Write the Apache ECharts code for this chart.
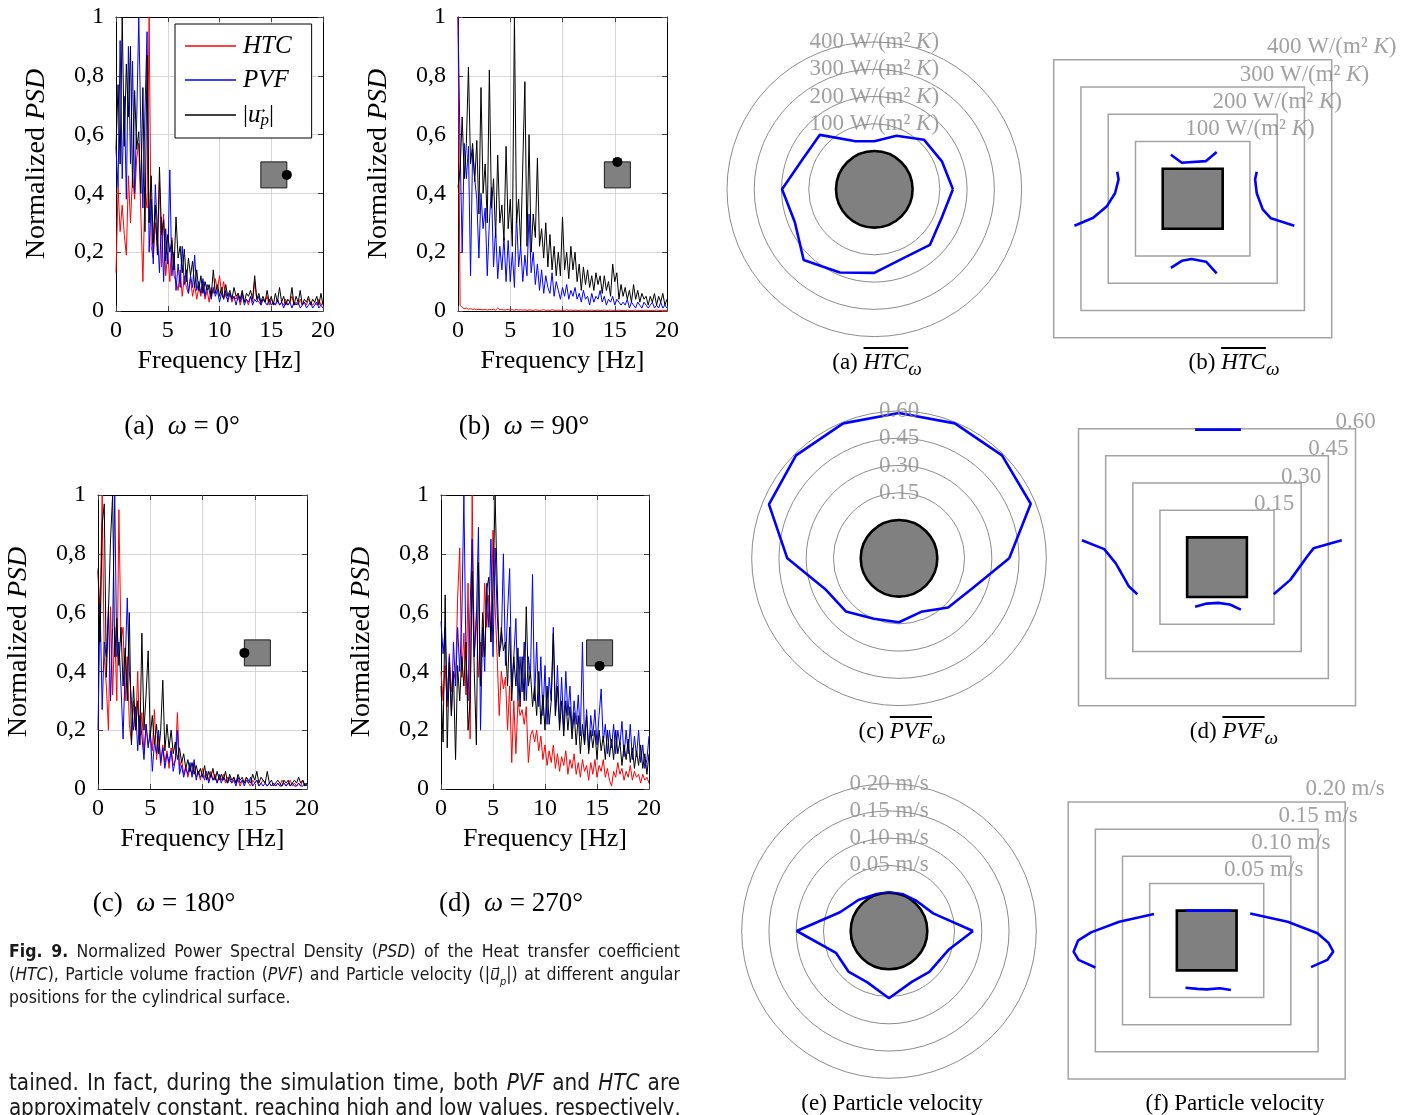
<!DOCTYPE html>
<html><head><meta charset="utf-8">
<script src="https://cdn.jsdelivr.net/npm/echarts/dist/echarts.min.js"></script>
<style>
html,body{margin:0;padding:0;background:#fff;width:1413px;height:1115px;overflow:hidden;}
#chart{position:absolute;left:0;top:0;width:1413px;height:1115px;}
.cap{position:absolute;font-family:"Liberation Serif","Times New Roman",serif;color:#000;text-align:center;white-space:nowrap;line-height:30px;}
.ol{text-decoration:overline;}
.para{position:absolute;font-family:"Liberation Sans Narrow","DejaVu Sans Condensed","Liberation Sans",sans-serif;text-align:justify;color:#1a1a1a;}
.line{text-align:justify;text-align-last:justify;white-space:nowrap;overflow:visible;}
sub{line-height:0;}
</style></head><body>
<div id="chart"></div>

<div class="cap" style="left:82px;top:410px;width:200px;font-size:27px;">(a)&nbsp;&nbsp;<i>ω</i> = 0°</div>
<div class="cap" style="left:424px;top:410px;width:200px;font-size:27px;">(b)&nbsp;&nbsp;<i>ω</i> = 90°</div>
<div class="cap" style="left:64px;top:887px;width:200px;font-size:27px;">(c)&nbsp;&nbsp;<i>ω</i> = 180°</div>
<div class="cap" style="left:411px;top:887px;width:200px;font-size:27px;">(d)&nbsp;&nbsp;<i>ω</i> = 270°</div>

<div class="cap" style="left:777px;top:347px;width:200px;font-size:23px;">(a)&nbsp;<span class="ol"><i>HTC</i></span><sub><i>ω</i></sub></div>
<div class="cap" style="left:1134px;top:347px;width:200px;font-size:23px;">(b)&nbsp;<span class="ol"><i>HTC</i></span><sub><i>ω</i></sub></div>
<div class="cap" style="left:802px;top:716px;width:200px;font-size:23px;">(c)&nbsp;<span class="ol"><i>PVF</i></span><sub><i>ω</i></sub></div>
<div class="cap" style="left:1134px;top:716px;width:200px;font-size:23px;">(d)&nbsp;<span class="ol"><i>PVF</i></span><sub><i>ω</i></sub></div>
<div class="cap" style="left:792px;top:1088px;width:200px;font-size:23px;">(e)&nbsp;Particle velocity</div>
<div class="cap" style="left:1135px;top:1088px;width:200px;font-size:23px;">(f)&nbsp;Particle velocity</div>

<div class="para" style="left:9px;top:940px;width:671px;font-size:17.5px;line-height:23px;"><b>Fig. 9.</b> Normalized Power Spectral Density (<i>PSD</i>) of the Heat transfer coefficient (<i>HTC</i>), Particle volume fraction (<i>PVF</i>) and Particle velocity (|<i>u⃗</i><sub style="font-size:11px"><i>p</i></sub>|) at different angular positions for the cylindrical surface.</div>
<div class="para" style="left:9px;top:1070px;width:671px;font-size:22.3px;line-height:25px;">
<div class="line fit"><span>tained. In fact, during the simulation time, both <i>PVF</i> and <i>HTC</i> are</span></div>
<div class="line fit"><span>approximately constant, reaching high and low values, respectively,</span></div>
</div>

<script>
// ---------------- DATA ----------------
const freq = Array.from({length:101}, (_, i) => Math.round(i * 2) / 10); // 0..20 Hz, 0.2 Hz step
const xTicks = [0, 5, 10, 15, 20];
const yTicks = [0, 0.2, 0.4, 0.6, 0.8, 1];
const omegas = [0, 90, 180, 270];
const insetPos = [15.25, 0.463];

const psdA_HTC = [0.13,0.42,0.27,0.36,0.26,0.19,0.46,0.3,0.46,0.38,
0.52,0.57,0.33,0.1,0.42,0.35,1.0,0.22,0.18,0.3,
0.22,0.44,0.15,0.33,0.12,0.2,0.1,0.25,0.12,0.1,
0.07,0.14,0.05,0.12,0.08,0.06,0.11,0.05,0.09,0.04,
0.08,0.05,0.1,0.04,0.07,0.03,0.08,0.06,0.11,0.07,
0.12,0.06,0.1,0.05,0.04,0.06,0.03,0.05,0.04,0.06,
0.02,0.05,0.03,0.04,0.02,0.05,0.03,0.1,0.04,0.03,
0.02,0.04,0.03,0.05,0.02,0.04,0.03,0.02,0.04,0.02,
0.03,0.02,0.04,0.02,0.03,0.05,0.02,0.03,0.02,0.04,
0.02,0.03,0.02,0.04,0.03,0.02,0.03,0.02,0.04,0.02,0.03];
const psdA_PVF = [0.55,0.42,0.92,0.45,0.73,0.38,0.9,0.5,0.85,0.4,
0.65,1.0,0.62,0.35,0.68,0.95,0.2,0.38,0.16,0.43,
0.27,0.13,0.32,0.1,0.28,0.16,0.48,0.12,0.2,0.07,
0.16,0.08,0.22,0.09,0.14,0.06,0.12,0.08,0.19,0.07,
0.1,0.06,0.11,0.05,0.09,0.07,0.04,0.08,0.05,0.07,
0.03,0.06,0.04,0.07,0.03,0.06,0.04,0.05,0.02,0.05,
0.03,0.06,0.02,0.04,0.03,0.05,0.02,0.04,0.03,0.05,
0.02,0.04,0.03,0.02,0.04,0.02,0.03,0.02,0.04,0.02,
0.03,0.01,0.03,0.02,0.03,0.01,0.03,0.02,0.03,0.01,
0.02,0.03,0.01,0.02,0.03,0.01,0.02,0.03,0.01,0.02,0.01];
const psdA_UP = [0.55,0.77,0.5,1.0,0.56,0.84,0.66,0.9,0.42,0.75,
0.55,0.61,0.4,0.76,0.27,0.87,0.3,0.46,0.23,0.36,
0.19,0.49,0.26,0.31,0.17,0.26,0.2,0.24,0.14,0.32,
0.18,0.22,0.13,0.21,0.1,0.18,0.12,0.17,0.08,0.14,
0.07,0.12,0.06,0.1,0.07,0.09,0.05,0.14,0.06,0.09,
0.05,0.08,0.04,0.09,0.05,0.07,0.04,0.08,0.05,0.06,
0.04,0.07,0.03,0.06,0.05,0.07,0.04,0.12,0.04,0.06,
0.03,0.05,0.03,0.07,0.03,0.05,0.02,0.06,0.03,0.08,
0.03,0.05,0.02,0.04,0.03,0.08,0.02,0.05,0.03,0.07,
0.02,0.04,0.03,0.05,0.02,0.04,0.03,0.05,0.02,0.06,0.02];

const psdB_HTC = [1.0,0.02,0.012,0.008,0.01,0.006,0.008,0.005,0.007,0.004,
0.006,0.005,0.004,0.006,0.003,0.005,0.004,0.006,0.003,0.01,
0.004,0.005,0.003,0.004,0.005,0.003,0.004,0.003,0.005,0.003,
0.004,0.003,0.004,0.002,0.004,0.003,0.002,0.004,0.003,0.002,
0.003,0.004,0.002,0.003,0.002,0.004,0.003,0.002,0.003,0.002,
0.003,0.002,0.004,0.002,0.003,0.002,0.003,0.002,0.002,0.003,
0.002,0.003,0.002,0.002,0.003,0.002,0.002,0.003,0.002,0.002,
0.003,0.002,0.002,0.003,0.002,0.002,0.002,0.003,0.002,0.002,
0.002,0.003,0.002,0.002,0.002,0.003,0.002,0.002,0.002,0.002,
0.003,0.002,0.002,0.002,0.002,0.003,0.002,0.002,0.002,0.002,0.002];
const psdB_PVF = [1.0,0.56,0.2,0.57,0.45,0.56,0.12,0.55,0.45,0.38,
0.18,0.4,0.28,0.35,0.12,0.3,0.42,0.15,0.28,0.11,
0.22,0.14,0.25,0.1,0.24,0.1,0.2,0.08,0.33,0.15,
0.22,0.1,0.19,0.12,0.33,0.13,0.2,0.09,0.16,0.07,
0.14,0.06,0.12,0.08,0.06,0.13,0.05,0.1,0.07,0.04,
0.08,0.05,0.09,0.04,0.07,0.05,0.08,0.04,0.06,0.03,
0.07,0.04,0.05,0.02,0.06,0.03,0.05,0.04,0.07,0.03,
0.05,0.02,0.04,0.03,0.05,0.02,0.04,0.03,0.02,0.03,
0.02,0.04,0.01,0.03,0.02,0.01,0.03,0.02,0.01,0.03,
0.02,0.01,0.02,0.03,0.01,0.02,0.01,0.03,0.01,0.02,0.01];
const psdB_UP = [0.42,0.48,0.66,0.45,0.57,0.83,0.5,0.57,0.44,0.58,
0.33,0.76,0.4,0.5,0.3,0.82,0.35,0.45,0.25,0.53,
0.3,0.36,0.24,0.56,0.28,0.38,0.22,1.0,0.3,0.38,
0.22,0.5,0.78,0.22,0.6,0.2,0.33,0.25,0.52,0.22,
0.28,0.18,0.3,0.15,0.26,0.14,0.22,0.12,0.2,0.12,
0.32,0.14,0.2,0.11,0.22,0.14,0.2,0.1,0.16,0.07,
0.15,0.09,0.14,0.08,0.12,0.07,0.13,0.09,0.12,0.06,
0.12,0.07,0.1,0.05,0.16,0.1,0.13,0.04,0.09,0.05,
0.08,0.04,0.07,0.03,0.09,0.04,0.07,0.03,0.06,0.04,
0.05,0.02,0.05,0.03,0.06,0.02,0.05,0.03,0.06,0.02,0.04];

const psdC_HTC = [0.74,0.6,1.0,0.45,0.35,0.2,0.62,0.32,0.55,0.3,
0.95,0.5,0.55,0.3,0.45,0.22,0.16,0.3,0.2,0.4,
0.15,0.26,0.12,0.22,0.15,0.18,0.13,0.27,0.1,0.18,
0.08,0.15,0.09,0.13,0.07,0.14,0.08,0.1,0.26,0.07,
0.1,0.05,0.08,0.04,0.07,0.05,0.09,0.04,0.06,0.03,
0.07,0.04,0.05,0.03,0.06,0.03,0.05,0.02,0.04,0.03,
0.05,0.02,0.04,0.03,0.02,0.04,0.02,0.03,0.01,0.03,
0.02,0.04,0.02,0.01,0.03,0.02,0.03,0.01,0.02,0.03,
0.02,0.01,0.02,0.01,0.02,0.01,0.02,0.01,0.03,0.02,
0.01,0.02,0.03,0.01,0.02,0.01,0.02,0.01,0.03,0.01,0.02];
const psdC_PVF = [0.2,0.63,0.27,0.5,0.45,0.62,0.3,0.55,1.0,0.45,
0.5,0.35,0.17,0.42,0.65,0.4,0.3,0.2,0.28,0.13,
0.25,0.18,0.1,0.22,0.14,0.2,0.06,0.16,0.12,0.2,
0.09,0.14,0.07,0.12,0.09,0.13,0.06,0.1,0.2,0.05,
0.08,0.04,0.07,0.05,0.09,0.04,0.1,0.03,0.06,0.04,
0.05,0.03,0.06,0.02,0.05,0.03,0.04,0.02,0.05,0.02,
0.04,0.03,0.02,0.04,0.02,0.03,0.01,0.04,0.02,0.03,
0.01,0.03,0.02,0.04,0.01,0.02,0.03,0.01,0.02,0.01,
0.02,0.01,0.02,0.01,0.02,0.01,0.02,0.01,0.01,0.02,
0.01,0.02,0.01,0.02,0.01,0.01,0.02,0.01,0.01,0.02,0.01];
const psdC_UP = [0.75,0.5,0.9,0.97,0.38,0.6,0.85,1.0,0.45,0.58,
0.42,0.55,0.35,0.48,0.3,0.6,0.15,0.35,0.2,0.3,
0.15,0.53,0.2,0.32,0.47,0.18,0.25,0.15,0.22,0.12,
0.2,0.37,0.13,0.22,0.14,0.2,0.12,0.16,0.1,0.14,
0.09,0.12,0.07,0.1,0.06,0.09,0.05,0.08,0.05,0.07,
0.04,0.08,0.03,0.06,0.04,0.07,0.03,0.06,0.03,0.05,
0.03,0.06,0.02,0.05,0.03,0.04,0.02,0.05,0.03,0.04,
0.02,0.04,0.03,0.02,0.05,0.03,0.06,0.02,0.04,0.03,
0.02,0.06,0.02,0.03,0.01,0.02,0.03,0.02,0.01,0.03,
0.02,0.03,0.01,0.02,0.03,0.02,0.04,0.02,0.03,0.01,0.02];

const psdD_HTC = [0.4,0.3,0.42,0.28,0.46,0.33,0.4,0.37,0.65,0.82,
0.38,0.53,0.32,0.7,0.17,1.0,0.45,0.6,0.38,0.5,
0.45,0.7,0.55,0.66,0.5,0.88,0.62,0.45,0.25,0.4,
0.34,0.38,0.2,0.35,0.09,0.3,0.12,0.3,0.25,0.27,
0.22,0.28,0.09,0.18,0.2,0.16,0.2,0.13,0.18,0.1,
0.15,0.08,0.13,0.09,0.15,0.07,0.12,0.06,0.11,0.08,
0.13,0.05,0.1,0.07,0.12,0.05,0.09,0.04,0.1,0.06,
0.08,0.03,0.09,0.05,0.1,0.04,0.08,0.06,0.1,0.04,
0.07,0.03,0.01,0.06,0.04,0.09,0.05,0.07,0.03,0.06,
0.04,0.08,0.03,0.06,0.04,0.05,0.02,0.05,0.03,0.04,0.02];
const psdD_PVF = [0.57,0.46,0.55,0.3,0.45,0.25,0.5,0.35,0.55,0.4,
0.58,1.0,0.45,0.3,0.62,0.85,0.45,0.58,0.89,0.2,
0.55,0.4,0.7,0.55,0.85,0.45,0.82,0.6,0.46,0.5,
0.8,0.42,0.6,0.75,0.35,0.45,0.58,0.3,0.45,0.33,
0.5,0.3,0.45,0.38,0.73,0.3,0.5,0.28,0.45,0.25,
0.42,0.22,0.38,0.3,0.55,0.25,0.42,0.22,0.38,0.2,
0.4,0.25,0.35,0.2,0.3,0.22,0.32,0.18,0.5,0.15,
0.27,0.13,0.25,0.18,0.27,0.15,0.25,0.34,0.16,0.22,
0.12,0.2,0.14,0.22,0.12,0.2,0.15,0.23,0.11,0.2,
0.12,0.22,0.1,0.18,0.11,0.2,0.09,0.15,0.07,0.1,0.18];
const psdD_UP = [0.35,0.16,0.66,0.14,0.43,0.25,0.4,0.1,0.42,0.3,
0.45,0.35,0.5,0.2,0.3,0.74,0.4,0.15,0.77,0.35,
0.6,0.45,0.68,0.72,0.5,0.68,1.0,0.7,0.45,0.55,
0.47,0.5,0.35,0.55,0.3,0.45,0.35,0.48,0.28,0.45,
0.3,0.62,0.35,0.4,0.28,0.35,0.25,0.4,0.22,0.32,
0.2,0.35,0.22,0.3,0.53,0.25,0.35,0.2,0.3,0.18,
0.3,0.2,0.28,0.17,0.26,0.15,0.25,0.12,0.22,0.15,
0.25,0.12,0.2,0.14,0.2,0.1,0.2,0.13,0.18,0.1,
0.2,0.11,0.17,0.1,0.2,0.12,0.16,0.08,0.15,0.1,
0.17,0.09,0.14,0.07,0.13,0.08,0.15,0.07,0.12,0.05,0.12];

// cylinder (polar) profiles, angle in degrees (0 = right, counter-clockwise)
const polarAngles = [0,22.5,45,67.5,90,112.5,135,157.5,180,202.5,225,247.5,270,292.5,315,337.5];
const htcCyl = [148,128,117,72,36,51,142,145,198,175,226,190,166,134,148,128];
const pvfCyl = [0.396,0.574,0.591,0.593,0.589,0.593,0.591,0.564,0.404,0.230,0.203,0.149,0.141,0.108,0.172,0.225];
const velAngles = [0,21.7,47.3,68.7,90,108.4,134.7,159.1,180,202.3,225,247.2,270,294.1,314.7,342.2];
const velCyl = [0.084,0.017,0.0046,0.002,0.0007,0.0013,0.0097,0.026,0.099,0.035,0.035,0.032,0.053,0.032,0.035,0.044];

// ring levels and labels
const htcRings = [100,200,300,400];
const htcRingLabels = ['100 W/(m²','200 W/(m²','300 W/(m²','400 W/(m²'];
const pvfRings = [0.15,0.30,0.45,0.60];
const pvfRingLabels = ['0.15','0.30','0.45','0.60'];
const velRings = [0.05,0.10,0.15,0.20];
const velRingLabels = ['0.05 m/s','0.10 m/s','0.15 m/s','0.20 m/s'];

// square profiles: position along side, value (distance from side)
const htcSqTopPos = [-80,-40,49,88], htcSqTopVal = [51,22,28,61];
const htcSqBotPos = [-80,-40,-4,49,88], htcSqBotVal = [144,118,111,121,164];
const htcSqLeftPos = [99,71,20,-29,-70,-99], htcSqLeftVal = [167,162,175,206,255,324];
const htcSqRightPos = [99,71,20,-39,-72,-99], htcSqRightVal = [125,119,125,147,177,263];

const pvfSqTopPos = [-0.121,0.132], pvfSqTopVal = [0.595,0.595];
const pvfSqBotPos = [-0.121,-0.057,0.007,0.071,0.132], pvfSqBotVal = [0.054,0.036,0.032,0.041,0.069];
const pvfSqLeftPos = [0.149,0.100,0.021,-0.107,-0.149], pvfSqLeftVal = [0.581,0.458,0.394,0.321,0.275];
const pvfSqRightPos = [0.149,0.104,0.062,-0.070,-0.149], pvfSqRightVal = [0.524,0.368,0.335,0.240,0.148];

const velSqTopPos = [-0.039,0.0445], velSqTopVal = [0,0];
const velSqBotPos = [-0.039,-0.017,0,0.0244,0.0445], velSqBotVal = [0.032,0.034,0.035,0.033,0.036];
const velSqLeftPos = [0.0486,0.0344,0.015,-0.0004,-0.0205,-0.0357,-0.0498], velSqLeftVal = [0.042,0.106,0.158,0.182,0.190,0.181,0.150];
const velSqRightPos = [0.0498,0.0344,0.0132,-0.004,-0.0205,-0.0357,-0.0491], velSqRightVal = [0.025,0.094,0.149,0.169,0.178,0.167,0.137];

// ---------------- LAYOUT / STYLE ----------------
const SERIF = '"Liberation Serif","Times New Roman",serif';
const RED = '#ff0000', BLUE = '#0000ff', BLACK = '#000000';
const psdLayout = [
  {left:116, top:17, width:207, height:294},
  {left:458, top:17, width:209, height:294},
  {left:98, top:495, width:209, height:294},
  {left:441, top:495, width:208, height:294}
];
const psdSets = [
  [psdA_HTC, psdA_PVF, psdA_UP],
  [psdB_HTC, psdB_PVF, psdB_UP],
  [psdC_HTC, psdC_PVF, psdC_UP],
  [psdD_HTC, psdD_PVF, psdD_UP]
];
const polarLayout = [
  {center:[874.3,189.3], radius:[38.3,147.3]},
  {center:[899,558.3], radius:[38.3,147.3]},
  {center:[889,931], radius:[38.3,147.3]}
];
const squareLayout = [
  {left:1053.7, top:59.7, width:278, height:278},
  {left:1078.5, top:428.7, width:277, height:277},
  {left:1068.2, top:802, width:277, height:277}
];
const squareLabelDist = [1, -5, 2];

const option = {
  animation:false,
  backgroundColor:'#fff',
  grid:[], xAxis:[], yAxis:[], polar:[], angleAxis:[], radiusAxis:[], series:[],
  legend:{
    data:['HTC','PVF','up'], orient:'vertical', left:175, top:24,
    padding:[9,20,9,10], itemGap:8, itemWidth:51, itemHeight:1.4, icon:'rect',
    borderColor:'#000', borderWidth:1, borderRadius:0, backgroundColor:'#fff',
    selectedMode:false, z:10,
    formatter: n => n === 'up' ? '{n||}{i|u}{ar|→}{s|p}{n||}' : '{i|' + n + '}',
    textStyle:{fontFamily:SERIF, fontSize:25, lineHeight:26, color:'#000', padding:[0,0,0,2],
      rich:{
        n:{fontFamily:SERIF, fontSize:25, lineHeight:26},
        i:{fontFamily:SERIF, fontSize:25, lineHeight:26, fontStyle:'italic'},
        ar:{fontFamily:SERIF, fontSize:15, lineHeight:4, width:0, align:'right', verticalAlign:'top'},
        s:{fontFamily:SERIF, fontSize:17, lineHeight:17, fontStyle:'italic', padding:[11,0,0,0]}
      }}
  }
};

const axisLineStyle = {color:'#000', width:1};
const tickStyle = {inside:true, length:5, lineStyle:{color:'#444', width:1}};

psdLayout.forEach((L, i) => {
  option.grid.push(Object.assign({outerBoundsMode:'none', containLabel:false}, L));
  option.xAxis.push({
    gridIndex:i, type:'value', min:xTicks[0], max:xTicks[xTicks.length-1], interval:5, position:'bottom',
    axisLine:{show:true, onZero:false, lineStyle:axisLineStyle}, axisTick:tickStyle,
    axisLabel:{margin:8, fontFamily:SERIF, fontSize:24, color:'#000'},
    splitLine:{show:true, lineStyle:{color:'#d6d6d6', width:1}},
    name:'Frequency [Hz]', nameLocation:'middle', nameGap:37,
    nameTextStyle:{fontFamily:SERIF, fontSize:26, color:'#000'}
  });
  option.xAxis.push({
    gridIndex:i, type:'value', min:0, max:20, interval:5, position:'top',
    axisLine:{show:true, onZero:false, lineStyle:axisLineStyle}, axisTick:tickStyle,
    axisLabel:{show:false}, splitLine:{show:false}
  });
  option.yAxis.push({
    gridIndex:i, type:'value', min:yTicks[0], max:yTicks[yTicks.length-1], interval:0.2, position:'left',
    axisLine:{show:true, onZero:false, lineStyle:axisLineStyle}, axisTick:tickStyle,
    axisLabel:{margin:12, fontFamily:SERIF, fontSize:24, color:'#000',
      formatter: v => (v === 0 || v === 1) ? String(v) : v.toFixed(1).replace('.', ',')},
    splitLine:{show:true, lineStyle:{color:'#d6d6d6', width:1}},
    name:'{n|Normalized }{i|PSD}', nameLocation:'middle', nameGap:65,
    nameTextStyle:{rich:{
      n:{fontFamily:SERIF, fontSize:28, color:'#000'},
      i:{fontFamily:SERIF, fontSize:28, color:'#000', fontStyle:'italic'}}}
  });
  option.yAxis.push({
    gridIndex:i, type:'value', min:0, max:1, interval:0.2, position:'right',
    axisLine:{show:true, onZero:false, lineStyle:axisLineStyle}, axisTick:tickStyle,
    axisLabel:{show:false}, splitLine:{show:false}
  });
  const names = ['HTC','PVF','up'], cols = [RED, BLUE, BLACK];
  psdSets[i].forEach((arr, s) => {
    option.series.push({
      type:'line', name:names[s], xAxisIndex:2*i, yAxisIndex:2*i,
      data: freq.map((f, k) => [f, arr[k]]),
      symbol:'none', showSymbol:false, clip:true, silent:true,
      lineStyle:{color:cols[s], width:1}, itemStyle:{color:cols[s]}, z:2+s*0.01
    });
  });
  option.series.push({
    type:'custom', xAxisIndex:2*i, yAxisIndex:2*i, silent:true, z:5,
    data:[[insetPos[0], insetPos[1], omegas[i]]],
    renderItem:(params, api) => {
      const c = api.coord([api.value(0), api.value(1)]);
      const s = 13, a = api.value(2) * Math.PI / 180;
      return {type:'group', children:[
        {type:'rect', shape:{x:c[0]-s, y:c[1]-s, width:2*s, height:2*s}, style:{fill:'#808080', stroke:'#1a1a1a', lineWidth:1}},
        {type:'circle', shape:{cx:c[0]+s*Math.cos(a), cy:c[1]-s*Math.sin(a), r:5}, style:{fill:'#000'}}
      ]};
    }
  });
});

// ----- polar (cylinder) plots -----
const polarDefs = [
  {angles:polarAngles, vals:htcCyl, rings:htcRings, labels:htcRingLabels, max:400, interval:100, rich:true},
  {angles:polarAngles, vals:pvfCyl, rings:pvfRings, labels:pvfRingLabels, max:0.6, interval:0.15, rich:false},
  {angles:velAngles, vals:velCyl, rings:velRings, labels:velRingLabels, max:0.2, interval:0.05, rich:false}
];
const ringLabelStyle = {
  fontFamily:SERIF, fontSize:23, color:'#8a8a8a',
  rich:{a:{fontFamily:SERIF, fontSize:23, color:'#8a8a8a'}, k:{fontFamily:SERIF, fontSize:23, color:'#8a8a8a', fontStyle:'italic'}}
};
const fmtLabel = (txt, rich) => rich ? '{a|' + txt + '}{k| K}{a|)}' : txt;

polarDefs.forEach((P, k) => {
  option.polar.push(polarLayout[k]);
  option.angleAxis.push({polarIndex:k, type:'value', min:0, max:360, startAngle:0, clockwise:false, show:false});
  option.radiusAxis.push({polarIndex:k, type:'value', min:0, max:P.max, interval:P.interval,
    axisLine:{show:false}, axisTick:{show:false}, axisLabel:{show:false},
    splitLine:{show:true, lineStyle:{color:'#8c8c8c', width:1}}});
  option.series.push({
    type:'pie', center:polarLayout[k].center, radius:polarLayout[k].radius[0], silent:true, z:2,
    data:[{value:1}], label:{show:false}, labelLine:{show:false},
    itemStyle:{color:'#808080', borderColor:'#000', borderWidth:2.6}, emphasis:{disabled:true}
  });
  const pts = P.angles.map((a, j) => [P.vals[j], a]);
  pts.push(pts[0]);
  option.series.push({
    type:'line', coordinateSystem:'polar', polarIndex:k, data:pts, symbol:'none', silent:true, z:4,
    lineStyle:{color:BLUE, width:2.6}
  });
  option.series.push({
    type:'scatter', coordinateSystem:'polar', polarIndex:k, symbolSize:0, silent:true, z:5,
    data:P.rings.map((v, j) => ({value:[v, 90], name:P.labels[j]})),
    label:Object.assign({show:true, position:'inside', formatter:p => fmtLabel(p.name, P.rich)}, ringLabelStyle)
  });
});

// ----- square plots -----
const squareDefs = [
  {s0:110, ext:510, rings:htcRings, labels:htcRingLabels, rich:true,
   top:[htcSqTopPos,htcSqTopVal], bot:[htcSqBotPos,htcSqBotVal], left:[htcSqLeftPos,htcSqLeftVal], right:[htcSqRightPos,htcSqRightVal]},
  {s0:0.165, ext:0.765, rings:pvfRings, labels:pvfRingLabels, rich:false,
   top:[pvfSqTopPos,pvfSqTopVal], bot:[pvfSqBotPos,pvfSqBotVal], left:[pvfSqLeftPos,pvfSqLeftVal], right:[pvfSqRightPos,pvfSqRightVal]},
  {s0:0.055, ext:0.255, rings:velRings, labels:velRingLabels, rich:false,
   top:[velSqTopPos,velSqTopVal], bot:[velSqBotPos,velSqBotVal], left:[velSqLeftPos,velSqLeftVal], right:[velSqRightPos,velSqRightVal]}
];
squareDefs.forEach((S, k) => {
  const gi = 4 + k, ai = 8 + k;
  option.grid.push(Object.assign({outerBoundsMode:'none', containLabel:false}, squareLayout[k]));
  option.xAxis.push({gridIndex:gi, type:'value', min:-S.ext, max:S.ext, show:false});
  option.yAxis.push({gridIndex:gi, type:'value', min:-S.ext, max:S.ext, show:false});
  const s0 = S.s0;
  option.series.push({
    type:'custom', xAxisIndex:ai, yAxisIndex:ai, silent:true, z:1,
    data:S.rings.map(v => [v, 0]),
    renderItem:(params, api) => {
      const h = s0 + api.value(0);
      const p1 = api.coord([-h, h]), p2 = api.coord([h, -h]);
      return {type:'rect', shape:{x:p1[0], y:p1[1], width:p2[0]-p1[0], height:p2[1]-p1[1]},
        style:{fill:'none', stroke:'#a3a3a3', lineWidth:1.5}};
    }
  });
  option.series.push({
    type:'custom', xAxisIndex:ai, yAxisIndex:ai, silent:true, z:2,
    data:[[0, 0]],
    renderItem:(params, api) => {
      const p1 = api.coord([-s0, s0]), p2 = api.coord([s0, -s0]);
      return {type:'rect', shape:{x:p1[0], y:p1[1], width:p2[0]-p1[0], height:p2[1]-p1[1]},
        style:{fill:'#808080', stroke:'#000', lineWidth:2.6}};
    }
  });
  const sides = [
    S.top[0].map((p, j) => [p, s0 + S.top[1][j]]),
    S.bot[0].map((p, j) => [p, -(s0 + S.bot[1][j])]),
    S.left[0].map((p, j) => [-(s0 + S.left[1][j]), p]),
    S.right[0].map((p, j) => [s0 + S.right[1][j], p])
  ];
  sides.forEach(d => option.series.push({
    type:'line', xAxisIndex:ai, yAxisIndex:ai, data:d, symbol:'none', silent:true, z:4,
    lineStyle:{color:BLUE, width:2.6}
  }));
  option.series.push({
    type:'scatter', xAxisIndex:ai, yAxisIndex:ai, symbolSize:0, silent:true, z:5,
    data:S.rings.map((v, j) => ({value:[s0 + v, s0 + v], name:S.labels[j]})),
    label:Object.assign({show:true, position:'top', distance:squareLabelDist[k], formatter:p => fmtLabel(p.name, S.rich)}, ringLabelStyle)
  });
});

const chart = echarts.init(document.getElementById('chart'), null, {renderer:'canvas'});
chart.setOption(option);

// fit each body-text line into the column width by tightening letter spacing only if needed
function fitLines() {
  document.querySelectorAll('.fit').forEach(el => {
    const span = el.firstElementChild;
    const W = el.clientWidth;
    let ls = 0;
    span.style.letterSpacing = '0px';
    while (span.getBoundingClientRect().width > W + 0.5 && ls > -2) {
      ls -= 0.05;
      span.style.letterSpacing = ls.toFixed(2) + 'px';
    }
  });
}
fitLines();
if (document.fonts && document.fonts.ready) document.fonts.ready.then(fitLines);
</script>
</body></html>
